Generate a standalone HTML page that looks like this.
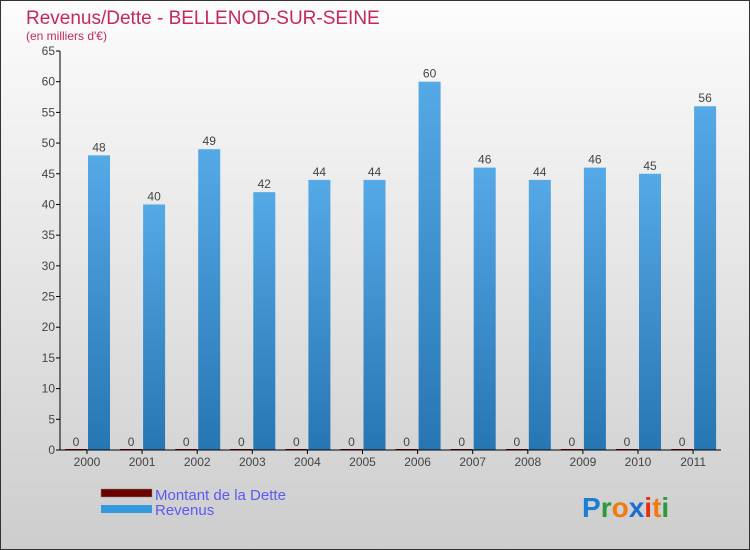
<!DOCTYPE html>
<html><head><meta charset="utf-8"><style>
body{margin:0}
#c{width:750px;height:550px;position:relative;overflow:hidden}
svg text{font-family:"Liberation Sans",sans-serif}
</style></head><body>
<div id="c">
<svg id="s" width="750" height="550" xmlns="http://www.w3.org/2000/svg">
<defs>
<linearGradient id="bg" x1="0" y1="0" x2="0" y2="1"><stop offset="0" stop-color="#fcfcfc"/><stop offset="1" stop-color="#cdcdcd"/></linearGradient>
<linearGradient id="bar" x1="0" y1="0" x2="0" y2="1"><stop offset="0" stop-color="#55a9e6"/><stop offset="1" stop-color="#2676b3"/></linearGradient>
</defs>
<rect x="0.5" y="0.5" width="749" height="549" fill="url(#bg)" stroke="#333"/>
<text x="26" y="24" font-size="19" fill="#c4285f">Revenus/Dette - BELLENOD-SUR-SEINE</text>
<text x="26" y="40" font-size="12" fill="#c4285f">(en milliers d'€)</text>
<g id="plot"></g>
<g>
<rect x="101" y="489" width="51" height="8" fill="#6b0000" stroke="#888" stroke-width="0.5"/>
<text x="155" y="500" font-size="15" fill="#5a5af0">Montant de la Dette</text>
<rect x="101" y="505" width="51" height="8" fill="#3399dd"/>
<text x="155" y="515" font-size="15" fill="#5a5af0">Revenus</text>
</g>
<g font-size="28" font-weight="bold">
<text x="582" y="517"><tspan fill="#1a7fd4">P</tspan><tspan fill="#2a9a3a">r</tspan><tspan fill="#f07a10">o</tspan><tspan fill="#1a6fd0">x</tspan><tspan fill="#e03010">i</tspan><tspan fill="#f07a10">t</tspan><tspan fill="#2a9a3a">i</tspan></text>
</g>
</svg>
</div>
<script>
const years=["2000","2001","2002","2003","2004","2005","2006","2007","2008","2009","2010","2011"];
const revenus=[48,40,49,42,44,44,60,46,44,46,45,56];
const dette=[0,0,0,0,0,0,0,0,0,0,0,0];
const yTicks=[0,5,10,15,20,25,30,35,40,45,50,55,60,65];
const NS="http://www.w3.org/2000/svg";
const g=document.getElementById('plot');
const x0=60,x1=721,yBase=450,yTop=51,ymax=65;
const y=v=>yBase-(v/ymax)*(yBase-yTop);
const xc=i=>87+i*55.1;
function el(t,a,txt){const e=document.createElementNS(NS,t);for(const k in a)e.setAttribute(k,a[k]);if(txt!==undefined)e.textContent=txt;g.appendChild(e);return e;}
years.forEach((yr,i)=>{
  const d=el('rect',{x:xc(i)-22,y:y(dette[i])-1,width:22,height:Math.max(1,yBase-y(dette[i])),fill:'#6b0000'});
  
  
  const l1=el('text',{x:xc(i)-11,y:y(dette[i])-4,'font-size':12,fill:'#444','text-anchor':'middle'},String(dette[i]));
  
  
  const r=el('rect',{x:xc(i)+1,y:y(revenus[i]),width:22,height:yBase-y(revenus[i]),fill:'url(#bar)'});
  
  
  const l2=el('text',{x:xc(i)+12,y:y(revenus[i])-4,'font-size':12,fill:'#444','text-anchor':'middle'},String(revenus[i]));
  
  
  const tk=el('line',{x1:xc(i),x2:xc(i),y1:yBase,y2:yBase+4,stroke:'#000'});
  
  
  const xl=el('text',{x:xc(i),y:yBase+16,'font-size':12,fill:'#444','text-anchor':'middle'},yr);
  
  
});
yTicks.forEach(v=>{
  const t=el('line',{x1:x0-4,x2:x0,y1:y(v),y2:y(v),stroke:'#000'});
  
  
  const l=el('text',{x:x0-5,y:y(v)+4,'font-size':12,fill:'#444','text-anchor':'end'},String(v));
  
  
});
const ya=el('line',{x1:x0,x2:x0,y1:yTop,y2:yBase,stroke:'#000'});


const xa=el('line',{x1:x0,x2:x1,y1:yBase,y2:yBase,stroke:'#000'});


</script>
</body></html>
